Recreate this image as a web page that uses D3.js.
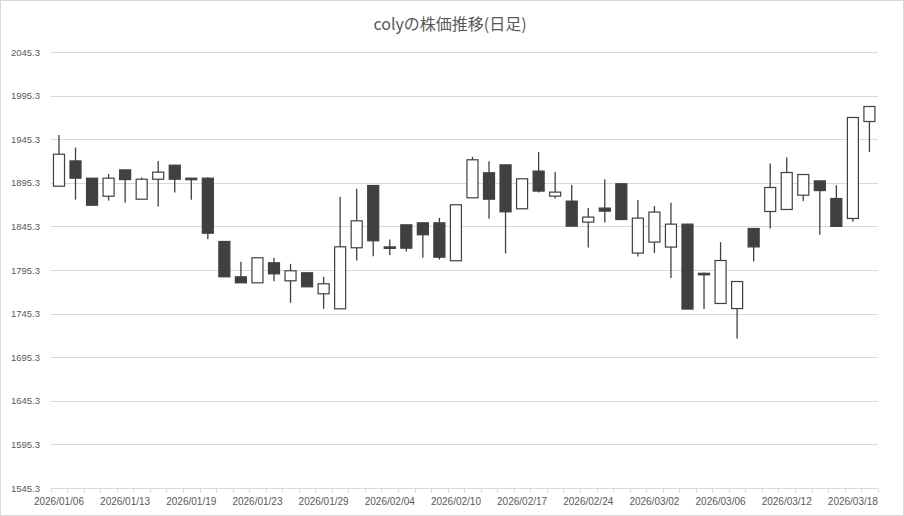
<!DOCTYPE html>
<html>
<head>
<meta charset="utf-8">
<script src="https://cdn.jsdelivr.net/npm/d3@7"></script>
<style>
  html, body { margin: 0; padding: 0; background: #fff; }
  svg { display: block; }
</style>
</head>
<body>
<svg id="chart" width="904" height="516"></svg>
<script>
const title = "colyの株価推移(日足)";
const dates = ["2026/01/06","2026/01/07","2026/01/08","2026/01/09","2026/01/13","2026/01/14","2026/01/15","2026/01/16","2026/01/19","2026/01/20",
  "2026/01/21","2026/01/22","2026/01/23","2026/01/26","2026/01/27","2026/01/28","2026/01/29","2026/01/30","2026/02/02","2026/02/03",
  "2026/02/04","2026/02/05","2026/02/06","2026/02/09","2026/02/10","2026/02/12","2026/02/13","2026/02/16","2026/02/17","2026/02/18",
  "2026/02/19","2026/02/20","2026/02/24","2026/02/25","2026/02/26","2026/02/27","2026/03/02","2026/03/03","2026/03/04","2026/03/05",
  "2026/03/06","2026/03/09","2026/03/10","2026/03/11","2026/03/12","2026/03/13","2026/03/16","2026/03/17","2026/03/18","2026/03/19"];
const open  = [1891.4,1920.4,1900.6,1879.9,1910.1,1876.5,1899.4,1915.5,1900.6,1900.6,
  1828.0,1787.5,1780.6,1803.6,1782.9,1792.1,1768.0,1750.8,1820.8,1892.2,
  1821.8,1847.1,1849.4,1849.4,1805.9,1878.1,1906.8,1915.9,1865.5,1908.7,
  1880.0,1874.3,1850.2,1866.3,1894.2,1814.7,1827.3,1821.6,1847.9,1791.5,
  1756.9,1751.1,1842.9,1862.4,1864.7,1881.1,1897.5,1877.3,1854.4,1965.6];
const high  = [1950.2,1935.7,1900.6,1905.5,1910.1,1901.3,1920.4,1915.5,1900.6,1901.7,
  1828.0,1804.7,1809.3,1809.3,1802.4,1792.1,1787.5,1879.2,1888.4,1892.2,
  1830.3,1847.1,1849.4,1855.2,1870.1,1925.1,1920.1,1915.9,1899.9,1930.5,
  1907.6,1892.7,1866.3,1899.5,1894.2,1875.5,1868.6,1872.4,1847.9,1792.5,
  1827.2,1782.1,1842.9,1917.4,1924.3,1904.8,1897.5,1892.5,1970.2,1982.8];
const low   = [1891.4,1876.0,1869.6,1874.9,1872.6,1876.5,1868.0,1884.1,1876.0,1830.6,
  1787.5,1780.6,1780.6,1782.5,1757.7,1776.0,1750.8,1750.8,1806.2,1811.1,
  1812.3,1816.5,1809.3,1807.3,1805.9,1878.1,1854.0,1814.2,1865.5,1884.2,
  1877.3,1845.6,1821.1,1849.8,1853.2,1810.8,1814.7,1786.0,1750.5,1750.5,
  1756.9,1716.7,1805.0,1842.9,1864.7,1874.5,1835.6,1845.3,1850.5,1930.7];
const close = [1928.1,1900.6,1869.6,1900.6,1899.0,1899.4,1907.5,1899.4,1899.4,1837.5,
  1787.5,1780.6,1809.3,1790.9,1794.4,1776.0,1779.5,1821.9,1851.7,1828.8,
  1821.0,1820.3,1835.7,1810.0,1870.1,1921.7,1876.5,1862.0,1899.9,1885.8,
  1884.6,1845.6,1856.0,1862.8,1853.2,1854.8,1861.7,1847.9,1750.5,1790.2,
  1806.2,1782.1,1821.8,1889.9,1907.1,1904.8,1886.4,1845.3,1970.2,1982.8];
const yTicks = [1545.3,1595.3,1645.3,1695.3,1745.3,1795.3,1845.3,1895.3,1945.3,1995.3,2045.3];
const labelEvery = 4;

(function () {
const W = 904, H = 516;
const svg = d3.select("#chart");
const pLeft = 50.7, pRight = 877.7, pTop = 52, pBottom = 488;
const grid = "#d9d9d9", ink = "#404040", txt = "#595959";

svg.append("rect").attr("x",0.5).attr("y",0.5).attr("width",W-1).attr("height",H-1)
  .attr("fill","#fff").attr("stroke","#d9d9d9");

svg.append("text").attr("x", 450).attr("y", 30).attr("text-anchor","middle")
  .attr("font-family","'Noto Sans CJK JP', 'Noto Sans', sans-serif").attr("font-size",16)
  .attr("fill", txt).text(title);

const x = d3.scaleBand().domain(d3.range(dates.length)).range([pLeft, pRight]).padding(0);
const y = d3.scaleLinear().domain([yTicks[0], yTicks[yTicks.length-1]]).range([pBottom, pTop]);

// gridlines
svg.append("g").selectAll("line").data(yTicks.slice(1)).join("line")
  .attr("x1", pLeft).attr("x2", pRight)
  .attr("y1", d => Math.round(y(d))+0.5).attr("y2", d => Math.round(y(d))+0.5)
  .attr("stroke", grid).attr("stroke-width",1);

// y labels
svg.append("g").selectAll("text").data(yTicks).join("text")
  .attr("x", 40).attr("y", d => y(d)+3.5).attr("text-anchor","end")
  .attr("font-family","'Liberation Sans', Arial, sans-serif").attr("font-size",9.5)
  .attr("fill", txt).text(d => d.toFixed(1));

// x axis
const xAxis = d3.axisBottom(x).tickSize(0).tickFormat("");
const gx = svg.append("g").attr("transform", `translate(0,${Math.round(pBottom)+0.5})`).call(xAxis);
gx.select(".domain").attr("stroke", grid).attr("d", `M${pLeft},0H${pRight}`);
gx.selectAll(".tick").remove();
const bounds = d3.range(dates.length+1).map(i => i < dates.length ? x(i) : pRight);
gx.selectAll("line.tk").data(bounds).join("line").attr("class","tk")
  .attr("x1", d => Math.round(d)+0.5).attr("x2", d => Math.round(d)+0.5)
  .attr("y1", 0).attr("y2", 4).attr("stroke", grid);

svg.append("g").selectAll("text").data(dates.map((d,i)=>({d,i})).filter(o => o.i % labelEvery === 0)).join("text")
  .attr("x", o => x(o.i) + x.bandwidth()/2).attr("y", 505).attr("text-anchor","middle")
  .attr("font-family","'Liberation Sans', Arial, sans-serif").attr("font-size",10)
  .attr("fill", txt).text(o => o.d);

// candles
const bw = x.bandwidth() / 1.5;
const g = svg.append("g");
const idx = d3.range(dates.length);
g.selectAll("line.wick").data(idx).join("line").attr("class","wick")
  .attr("x1", i => x(i)+x.bandwidth()/2).attr("x2", i => x(i)+x.bandwidth()/2)
  .attr("y1", i => y(high[i])).attr("y2", i => y(low[i]))
  .attr("stroke", ink).attr("stroke-width", 1.3);
g.selectAll("rect.body").data(idx).join("rect").attr("class","body")
  .attr("x", i => x(i)+x.bandwidth()/2 - bw/2)
  .attr("width", bw)
  .attr("y", i => y(Math.max(open[i], close[i])))
  .attr("height", i => Math.max(1.5, Math.abs(y(open[i]) - y(close[i]))))
  .attr("fill", i => close[i] >= open[i] ? "#ffffff" : ink)
  .attr("stroke", ink).attr("stroke-width", 1.2);
})();
</script>
</body>
</html>
